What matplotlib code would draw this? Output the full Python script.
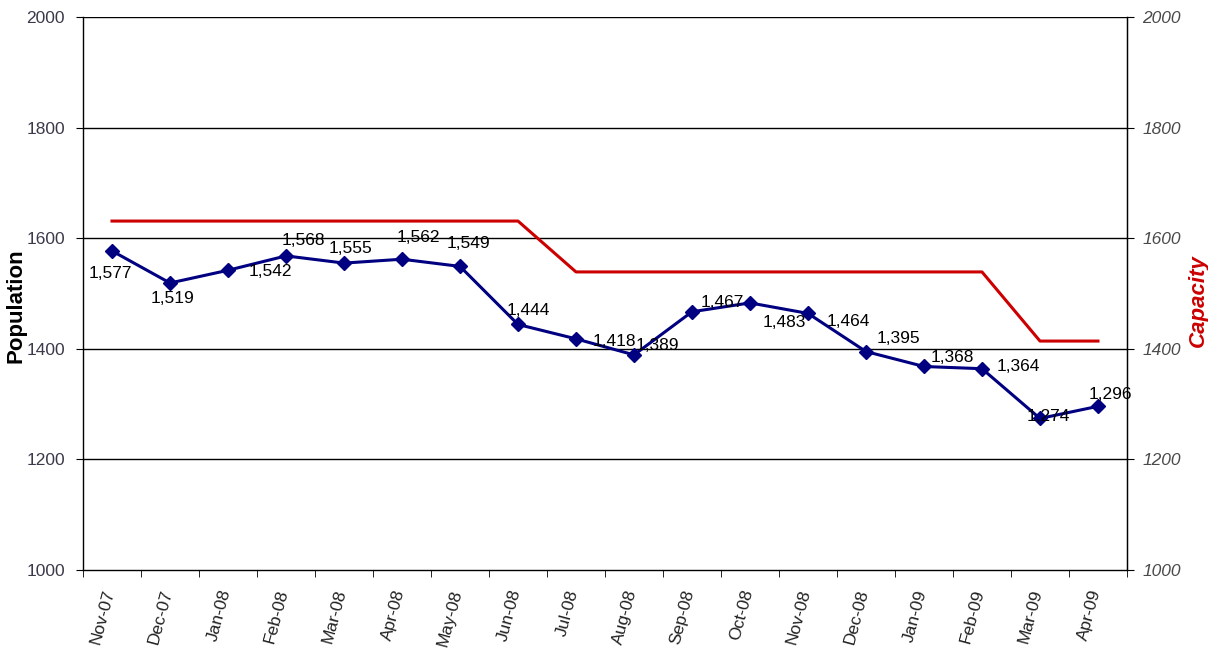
import matplotlib
matplotlib.use("Agg")
import matplotlib.pyplot as plt
from matplotlib.transforms import ScaledTranslation
import numpy as np

plt.rcParams['font.family'] = ['Liberation Sans', 'DejaVu Sans']

months = ["Nov-07", "Dec-07", "Jan-08", "Feb-08", "Mar-08", "Apr-08", "May-08",
          "Jun-08", "Jul-08", "Aug-08", "Sep-08", "Oct-08", "Nov-08", "Dec-08",
          "Jan-09", "Feb-09", "Mar-09", "Apr-09"]
population = [1577, 1519, 1542, 1568, 1555, 1562, 1549, 1444, 1418, 1389,
              1467, 1483, 1464, 1395, 1368, 1364, 1274, 1296]
capacity = [1631, 1631, 1631, 1631, 1631, 1631, 1631, 1631, 1539, 1539,
            1539, 1539, 1539, 1539, 1539, 1539, 1414, 1414]
yticks = [1000, 1200, 1400, 1600, 1800, 2000]

# label offsets (pixels, dx right, dy down) - style only
label_offsets = [(-2, 23), (3, 16), (42, 1), (17, -15), (6, -15), (16, -22),
                 (8, -23), (10, -14), (38, 3), (23, -9), (30, -9), (34, 20),
                 (40, 8), (32, -13), (28, -9), (36, -2), (8, -2), (12, -12)]

W, H = 1208, 652
fig = plt.figure(figsize=(W / 100, H / 100), dpi=100)
fig.subplots_adjust(left=83 / W, right=1127 / W, top=1 - 17 / H, bottom=1 - 570 / H)
ax = fig.add_subplot(111)

x = np.arange(len(months))
ax.set_xlim(-0.5, len(months) - 0.5)
ax.set_ylim(1000, 2000)
ax.set_yticks(yticks)
for v in yticks[1:]:
    ax.axhline(v, color='black', lw=1.0, zorder=1)

ax.plot(x, capacity, color='#CC0000', lw=2.2, zorder=3)
ax.plot(x, population, color='#000080', lw=2.2, marker='D', markersize=7,
        markerfacecolor='#000080', markeredgecolor='#000080', zorder=4)

for xi, v, (dx, dy) in zip(x, population, label_offsets):
    ax.annotate(f"{v:,}", (xi, v), xytext=(dx, -dy), textcoords='offset pixels',
                ha='center', va='center', fontsize=12.5, color='black', zorder=5)

for s in ['top']:
    ax.spines[s].set_visible(False)
for s in ['left', 'right', 'bottom']:
    ax.spines[s].set_color('black')
    ax.spines[s].set_linewidth(1.0)

ax.set_xticks(x)
ax.set_xticklabels(months, rotation=75, ha='right', va='top', fontsize=12.5, color='#222222')
ax.set_xticks(np.arange(-0.5, len(months), 1.0), minor=True)
ax.tick_params(axis='x', which='major', length=0, pad=13)
ax.tick_params(axis='x', which='minor', length=5, direction='out', color='black')
for lab in ax.get_xticklabels():
    lab.set_transform(lab.get_transform() + ScaledTranslation(5 / 100, 0, fig.dpi_scale_trans))

ax.tick_params(axis='y', which='major', length=5, direction='out', color='black',
               labelsize=12.5, labelcolor='#3a3a4a', pad=8)

ax2 = ax.twinx()
ax2.set_ylim(1000, 2000)
ax2.set_yticks(yticks)
ax2.set_yticklabels([str(v) for v in yticks], fontstyle='italic', fontsize=12.5, color='#4a4a4a')
ax2.tick_params(axis='y', length=5, direction='out', color='black', pad=6)
for s in ['top', 'left', 'bottom']:
    ax2.spines[s].set_visible(False)
ax2.spines['right'].set_color('black')

fig.text(16 / W, 1 - 306 / H, "Population", rotation=90, ha='center', va='center',
         fontsize=16, fontweight='bold', color='black')
fig.text(1198 / W, 1 - 301 / H, "Capacity", rotation=90, ha='center', va='center',
         fontsize=16, fontweight='bold', fontstyle='italic', color='#CC0000')

fig.savefig("out.png", dpi=100)
